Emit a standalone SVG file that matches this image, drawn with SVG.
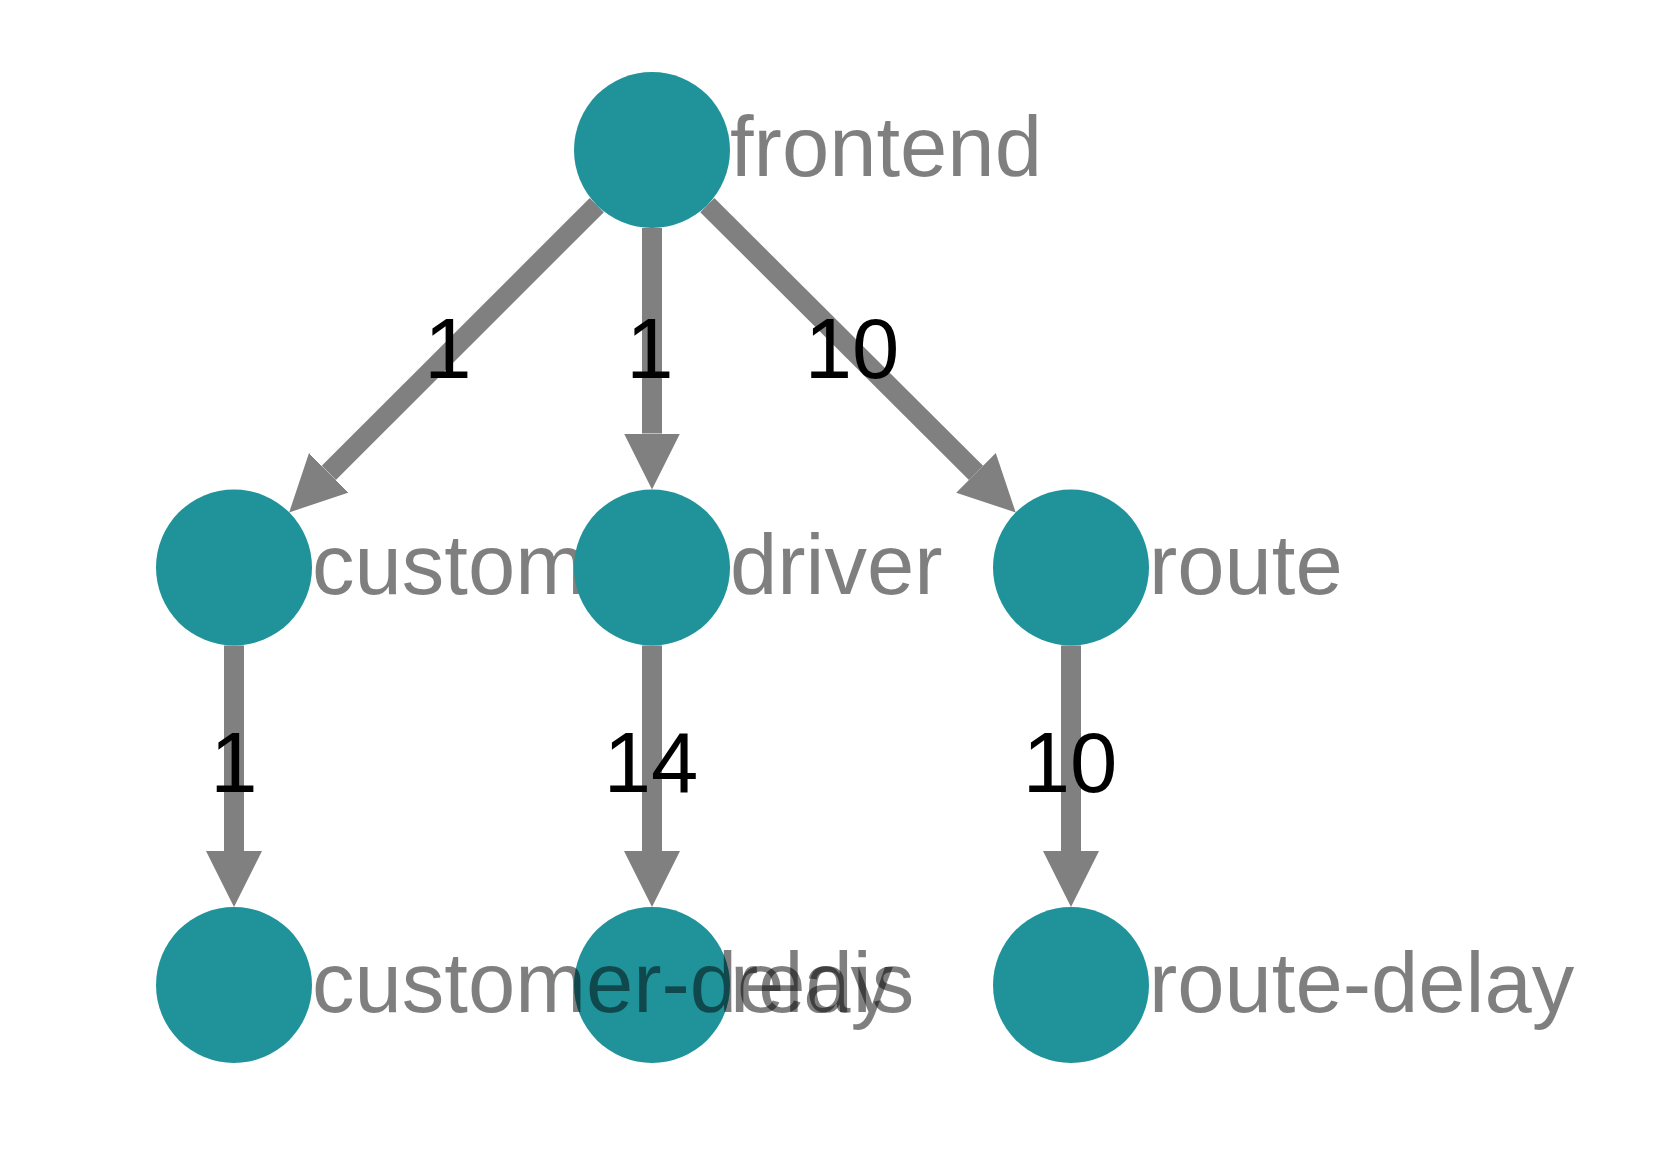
<svg xmlns="http://www.w3.org/2000/svg" width="1670" height="1174" viewBox="0 0 1670 1174">
<style>
.edge{stroke:#808080;stroke-width:20;fill:none;marker-end:url(#arrow)}
.node circle{fill:#20939a}
.node text{font-family:"Liberation Sans",Arial,sans-serif;font-size:85px;fill:#000;fill-opacity:0.5}
.elabel{font-family:"Liberation Sans",Arial,sans-serif;font-size:85px;fill:#000;text-anchor:middle}
</style>
<defs>
<marker id="arrow" markerUnits="userSpaceOnUse" markerWidth="56" markerHeight="56" refX="0" refY="28" orient="auto" viewBox="0 0 56 56">
<path d="M0,0 L56,28 L0,56 Z" fill="#808080"/>
</marker>
</defs>
<rect width="1670" height="1174" fill="#fff"/>
<g id="connectors">
<line class="edge" x1="596.8" y1="205.1" x2="328.8" y2="472.8"/>
<line class="edge" x1="652" y1="228" x2="652" y2="433.5"/>
<line class="edge" x1="707.3" y1="205.1" x2="976" y2="472.9"/>
<line class="edge" x1="234" y1="645.5" x2="234" y2="851"/>
<line class="edge" x1="652" y1="645.5" x2="652" y2="851"/>
<line class="edge" x1="1071" y1="645.5" x2="1071" y2="851"/>
<text class="elabel" x="448" y="378">1</text>
<text class="elabel" x="650" y="378">1</text>
<text class="elabel" x="852" y="378">10</text>
<text class="elabel" x="234" y="792">1</text>
<text class="elabel" x="651" y="792">14</text>
<text class="elabel" x="1070" y="792">10</text>
</g>
<g id="node-frontend" class="node"><circle cx="652" cy="150" r="78"/><text x="730" y="176">frontend</text></g>
<g id="node-customer" class="node"><circle cx="234" cy="567.5" r="78"/><text x="312" y="594">customer</text></g>
<g id="node-driver" class="node"><circle cx="652" cy="567.5" r="78"/><text x="730" y="594">driver</text></g>
<g id="node-route" class="node"><circle cx="1071" cy="567.5" r="78"/><text x="1149" y="594">route</text></g>
<g id="node-redis" class="node"><circle cx="652" cy="985" r="78"/><text x="730" y="1012">redis</text></g>
<g id="node-customer-delay" class="node"><circle cx="234" cy="985" r="78"/><text x="312" y="1012">customer-delay</text></g>
<g id="node-route-delay" class="node"><circle cx="1071" cy="985" r="78"/><text x="1149" y="1012">route-delay</text></g>
</svg>
